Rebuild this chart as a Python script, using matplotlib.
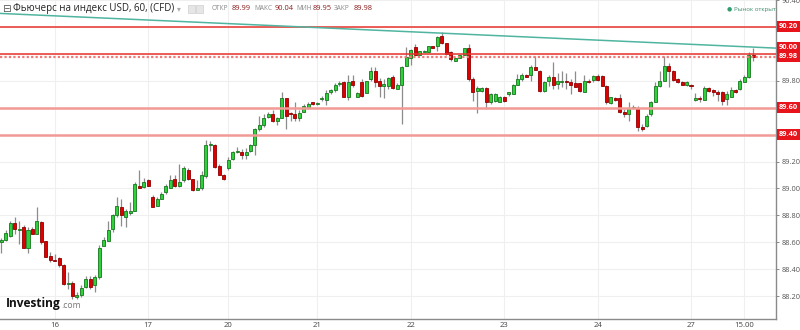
import numpy as np
import matplotlib
matplotlib.use("Agg")
import matplotlib.pyplot as plt
from matplotlib.patches import Rectangle

plt.rcParams["font.family"] = ["Open Sans", "DejaVu Sans"]

# hourly candles (index 1..170)
opens = [88.60, 88.62, 88.65, 88.74, 88.69, 88.71, 88.56, 88.70, 88.66, 88.75,
         88.61, 88.50, 88.47, 88.48, 88.43, 88.29, 88.30, 88.19, 88.21, 88.27,
         88.33, 88.28, 88.34, 88.57, 88.61, 88.70, 88.80, 88.86, 88.79, 88.82,
         88.83, 89.02, 89.01, 89.06, 88.94, 88.87, 88.92, 88.97, 89.00, 89.07,
         89.02, 89.06, 89.14, 89.07, 88.99, 89.00, 89.09, 89.32, 89.32, 89.17,
         89.10, 89.15, 89.22, 89.27, 89.27, 89.25, 89.28, 89.32, 89.44, 89.47,
         89.53, 89.55, 89.50, 89.52, 89.67, 89.56, 89.55, 89.52, 89.57, 89.60,
         89.64, 89.63, 89.665, 89.66, 89.72, 89.73, 89.775, 89.79, 89.68, 89.80,
         89.68, 89.79, 89.71, 89.81, 89.87, 89.80, 89.763, 89.76, 89.825, 89.74,
         89.77, 89.91, 89.97, 90.05, 89.99, 90.015, 90.015, 90.055, 90.055, 90.13,
         90.08, 90.015, 89.95, 89.97, 89.99, 90.045, 89.81, 89.726, 89.726, 89.745,
         89.64, 89.647, 89.645, 89.68, 89.70, 89.70, 89.77, 89.81, 89.845, 89.84,
         89.90, 89.874, 89.726, 89.80, 89.825, 89.775, 89.79, 89.80, 89.79, 89.785,
         89.78, 89.72, 89.80, 89.805, 89.837, 89.837, 89.763, 89.634, 89.67, 89.67,
         89.57, 89.553, 89.60, 89.60, 89.46, 89.466, 89.55, 89.645, 89.763, 89.80,
         89.91, 89.87, 89.81, 89.79, 89.77, 89.77, 89.66, 89.67, 89.66, 89.745,
         89.73, 89.713, 89.713, 89.664, 89.68, 89.73, 89.738, 89.79, 89.825, 89.99]
highs = [88.63, 88.69, 88.76, 88.79, 88.76, 88.73, 88.71, 88.71, 88.86, 88.76,
         88.61, 88.53, 88.51, 88.49, 88.44, 88.38, 88.31, 88.23, 88.28, 88.35,
         88.35, 88.36, 88.58, 88.64, 88.76, 88.81, 88.94, 88.92, 88.85, 88.90,
         89.05, 89.14, 89.08, 89.07, 88.95, 88.94, 88.97, 89.03, 89.10, 89.10,
         89.18, 89.17, 89.15, 89.07, 89.06, 89.13, 89.36, 89.35, 89.33, 89.18,
         89.11, 89.23, 89.28, 89.31, 89.29, 89.30, 89.33, 89.45, 89.54, 89.55,
         89.57, 89.58, 89.53, 89.72, 89.67, 89.57, 89.64, 89.58, 89.63, 89.64,
         89.64, 89.64, 89.69, 89.73, 89.74, 89.78, 89.80, 89.80, 89.84, 89.84,
         89.72, 89.81, 89.80, 89.90, 89.90, 89.82, 89.81, 89.83, 89.84, 89.78,
         89.91, 90.05, 90.035, 90.07, 90.02, 90.025, 90.06, 90.06, 90.13, 90.16,
         90.08, 90.02, 89.975, 89.995, 90.045, 90.07, 89.825, 89.76, 89.75, 89.75,
         89.71, 89.71, 89.685, 89.685, 89.72, 89.775, 89.85, 89.86, 89.85, 89.915,
         89.985, 89.88, 89.80, 89.84, 89.94, 89.86, 89.87, 89.86, 89.81, 89.87,
         89.78, 89.84, 89.81, 89.84, 89.85, 89.84, 89.77, 89.68, 89.68, 89.70,
         89.59, 89.64, 89.62, 89.61, 89.48, 89.55, 89.65, 89.79, 89.87, 89.985,
         89.935, 89.88, 89.82, 89.80, 89.80, 89.775, 89.71, 89.69, 89.76, 89.75,
         89.74, 89.73, 89.725, 89.725, 89.75, 89.74, 89.81, 89.84, 90.01, 90.04]
lows = [88.52, 88.61, 88.64, 88.66, 88.59, 88.56, 88.52, 88.66, 88.66, 88.59,
        88.49, 88.45, 88.46, 88.42, 88.28, 88.25, 88.18, 88.18, 88.19, 88.26,
        88.25, 88.23, 88.33, 88.57, 88.61, 88.68, 88.79, 88.72, 88.71, 88.80,
        88.83, 89.00, 89.00, 89.02, 88.86, 88.87, 88.92, 88.96, 89.00, 89.01,
        89.01, 89.05, 89.06, 88.98, 88.99, 88.99, 89.08, 89.28, 89.15, 89.10,
        89.06, 89.14, 89.21, 89.26, 89.22, 89.22, 89.27, 89.25, 89.43, 89.46,
        89.52, 89.49, 89.47, 89.52, 89.44, 89.50, 89.50, 89.50, 89.57, 89.59,
        89.62, 89.62, 89.65, 89.62, 89.70, 89.72, 89.76, 89.68, 89.66, 89.75,
        89.68, 89.68, 89.71, 89.80, 89.75, 89.68, 89.67, 89.74, 89.74, 89.74,
        89.48, 89.91, 89.92, 89.99, 89.99, 90.01, 90.01, 90.04, 90.02, 90.07,
        89.99, 89.95, 89.95, 89.97, 89.99, 89.80, 89.65, 89.56, 89.72, 89.59,
        89.63, 89.64, 89.64, 89.64, 89.69, 89.70, 89.77, 89.80, 89.83, 89.80,
        89.88, 89.72, 89.72, 89.76, 89.74, 89.74, 89.75, 89.74, 89.70, 89.75,
        89.72, 89.72, 89.78, 89.79, 89.80, 89.76, 89.63, 89.63, 89.65, 89.56,
        89.53, 89.50, 89.59, 89.43, 89.43, 89.46, 89.54, 89.64, 89.75, 89.80,
        89.75, 89.80, 89.78, 89.77, 89.76, 89.74, 89.65, 89.64, 89.66, 89.72,
        89.69, 89.65, 89.62, 89.62, 89.68, 89.71, 89.73, 89.79, 89.82, 89.95]
closes = [88.62, 88.67, 88.74, 88.70, 88.70, 88.56, 88.69, 88.66, 88.76, 88.60,
          88.49, 88.47, 88.46, 88.43, 88.29, 88.30, 88.20, 88.21, 88.26, 88.33,
          88.27, 88.34, 88.56, 88.62, 88.69, 88.80, 88.87, 88.80, 88.83, 88.83,
          89.03, 89.00, 89.05, 89.02, 88.86, 88.92, 88.96, 89.02, 89.06, 89.02,
          89.05, 89.15, 89.07, 88.99, 89.00, 89.10, 89.32, 89.33, 89.16, 89.10,
          89.07, 89.21, 89.27, 89.28, 89.25, 89.27, 89.32, 89.44, 89.47, 89.52,
          89.55, 89.50, 89.52, 89.67, 89.54, 89.55, 89.52, 89.56, 89.61, 89.63,
          89.63, 89.635, 89.675, 89.71, 89.73, 89.77, 89.785, 89.68, 89.79, 89.77,
          89.71, 89.69, 89.80, 89.87, 89.79, 89.76, 89.773, 89.82, 89.744, 89.77,
          89.90, 89.98, 90.03, 89.99, 90.02, 90.02, 90.06, 90.04, 90.126, 90.08,
          90.00, 89.96, 89.97, 89.99, 90.04, 89.81, 89.72, 89.745, 89.745, 89.645,
          89.705, 89.705, 89.68, 89.647, 89.713, 89.77, 89.81, 89.845, 89.83, 89.90,
          89.88, 89.726, 89.79, 89.825, 89.77, 89.80, 89.80, 89.793, 89.77, 89.755,
          89.726, 89.80, 89.792, 89.837, 89.805, 89.763, 89.64, 89.677, 89.66, 89.57,
          89.553, 89.60, 89.605, 89.46, 89.44, 89.54, 89.645, 89.763, 89.80, 89.91,
          89.87, 89.805, 89.79, 89.77, 89.79, 89.763, 89.67, 89.663, 89.745, 89.726,
          89.713, 89.70, 89.647, 89.70, 89.73, 89.72, 89.795, 89.825, 89.995, 89.98]

day_labels = ["16", "17", "20", "21", "22", "23", "24", "27", "15.00"]
day_pos = [13, 34, 52, 72, 93, 114, 135, 156, 168]   # candle index of each label

price_ticks = [88.20, 88.40, 88.60, 88.80, 89.00, 89.20, 89.40, 89.60, 89.80, 90.00, 90.20, 90.40]
level_solid = [90.20, 90.00]
level_soft = [89.60, 89.40]
last_price = 89.98
trend = [(1, 90.30), (170, 90.05)]
# red price tags on the axis: (label, where it is drawn)
tags = [("90.20", 90.20), ("90.00", 90.047), ("89.98", 89.977), ("89.60", 89.60), ("89.40", 89.40)]
ohlc_head = [("ОТКР", "89.99"), ("МАКС", "90.04"), ("МИН", "89.95"), ("ЗАКР", "89.98")]

GREEN, GREEN_E = "#2fd13a", "#17751d"
RED, RED_E = "#dc0000", "#8f0000"

W, H = 800, 330
fig = plt.figure(figsize=(W / 100, H / 100), dpi=100)
ax = fig.add_axes([0, 11 / H, 776 / W, 319 / H])

x = np.arange(1, len(opens) + 1)
o = np.array(opens); h = np.array(highs); l = np.array(lows); c = np.array(closes)
up = c >= o
ax.vlines(x, l, h, color="#8c8c8c", lw=0.9, zorder=3)
bot = np.minimum(o, c)
hgt = np.maximum(np.abs(c - o), 0.005)
ax.bar(x[up], hgt[up], bottom=bot[up], width=0.68, color=GREEN, edgecolor=GREEN_E, lw=0.6, zorder=4)
ax.bar(x[~up], hgt[~up], bottom=bot[~up], width=0.68, color=RED, edgecolor=RED_E, lw=0.6, zorder=4)

# grid
for p in price_ticks:
    ax.axhline(p, color="#efefef", lw=0.8, zorder=0)
for d in day_pos:
    ax.axvline(d, color="#efefef", lw=0.8, zorder=0)

# levels
for p in level_solid:
    ax.axhline(p, color="#e8322c", lw=1.1, zorder=5)
for p in level_soft:
    ax.axhline(p, color="#f29a96", lw=1.8, zorder=5)
ax.axhline(last_price, color="#f07a76", lw=1.6, ls=(0, (1, 1)), zorder=5)
ax.axline(trend[0], trend[1], color="#4fb5a0", lw=1.1, zorder=6)

ax.set_xlim(0.71, 175.1)
ax.set_ylim(88.03, 90.393)
ax.set_xticks(day_pos)
ax.set_xticklabels(day_labels)
ax.set_yticks(price_ticks)
# labels under the red tags are hidden by them
hidden = {f"{p:.2f}" for p in level_solid + level_soft}
ax.set_yticklabels(["" if f"{p:.2f}" in hidden else f"{p:.2f}" for p in price_ticks])
ax.yaxis.tick_right()
ax.tick_params(axis="y", length=2.5, width=0.6, color="#777", labelsize=5.3, labelcolor="#555", pad=1.5)
ax.tick_params(axis="x", length=0, labelsize=5.6, labelcolor="#444", pad=2.5)
for s in ("left", "top"):
    ax.spines[s].set_visible(False)
for s in ("right", "bottom"):
    ax.spines[s].set_color("#8a8a8a")
    ax.spines[s].set_linewidth(1)

for txt, yv in tags:
    ax.text(1.004, yv, txt, transform=ax.get_yaxis_transform(), ha="left", va="center",
            fontsize=5.3, color="white", fontweight="bold", zorder=10,
            bbox=dict(boxstyle="square,pad=0.28", fc="#e8141b", ec="none"))

# header
yh = 1 - 9 / H
fig.text(2 / W, yh, "⊟", fontsize=7.5, color="#555", va="center", family="DejaVu Sans")
fig.text(13 / W, yh, "Фьючерс на индекс USD, 60, (CFD)", fontsize=7.0, color="#222", va="center")
fig.text(177 / W, yh, "▾", fontsize=5.5, color="#aaa", va="center", family="DejaVu Sans")
for bx in (188, 196):
    fig.add_artist(Rectangle((bx / W, yh - 4 / H), 7 / W, 8 / H, transform=fig.transFigure,
                             fc="#e6e6e6", ec="#cfcfcf", lw=0.5))
lab_x = [212, 254, 296, 334]
val_x = [232, 275, 313, 354]
for (lab, val), lx, vx in zip(ohlc_head, lab_x, val_x):
    fig.text(lx / W, yh, lab, fontsize=4.7, color="#888", va="center")
    fig.text(vx / W, yh, val, fontsize=5.4, color="#8b1c1c", va="center")
fig.text(727 / W, yh, "●", fontsize=4.2, color="#2e9e6e", va="center", family="DejaVu Sans")
fig.text(734 / W, yh, "Рынок открыт", fontsize=4.4, color="#3d8c6c", va="center")

# logo
fig.text(6 / W, 1 - 304 / H, "Investing", fontsize=8.6, fontweight="bold", color="#111", va="center")
fig.text(61 / W, 1 - 306 / H, ".com", fontsize=6.2, color="#777", va="center")

fig.savefig("out.png", dpi=100)
